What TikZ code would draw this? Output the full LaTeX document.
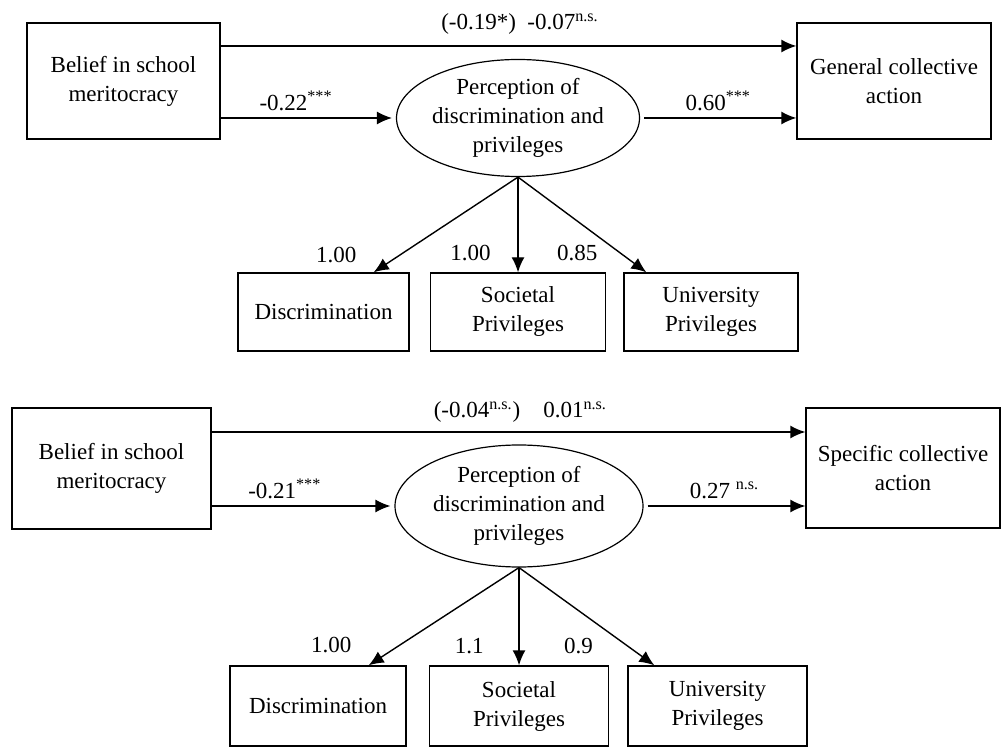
\documentclass[tikz,border=0pt]{standalone}
\usepackage{fontspec}
\setmainfont{Liberation Serif}
\usetikzlibrary{arrows.meta,shapes,positioning}

\begin{document}
\begin{tikzpicture}[x=0.5pt, y=-0.5pt,
        font=\fontsize{11.5}{14.5}\selectfont,
        box/.style={draw, line width=0.7pt, inner sep=0pt, align=center},
        latent/.style={draw, ellipse, line width=0.6pt, inner sep=0pt, align=center},
        arr/.style={->, >={Latex[length=7.5pt,width=6.5pt]}, line width=0.7pt}]
        \useasboundingbox (0,0) rectangle (1001,753);

        % general collective action
        \node[box, minimum width=96.5pt, minimum height=58pt] (M1) at (123.5,81) {Belief in school\\meritocracy};
        \node[box, minimum width=97pt, minimum height=58pt] (G1) at (894,81) {General collective\\action};
        \node[latent, minimum width=120pt, minimum height=58.5pt] (P1) at (518,118) {Perception of\\discrimination and\\privileges};

        \node[box, minimum width=85.5pt, minimum height=39pt] (D1) at (323.5,312) {Discrimination};
        \node[box, minimum width=87.5pt, minimum height=39pt] (S1) at (518,312) {Societal\\Privileges};
        \node[box, minimum width=87pt, minimum height=39pt] (U1) at (711,312) {University\\Privileges};

        \coordinate (T1) at (0,46);

        \draw[arr] (M1.east |- T1) to node[above, pos=0.52, yshift=2pt]{(-0.19*)\ \ -0.07\textsuperscript{n.s.}} (G1.west |- T1);
        \draw[arr, shorten >=2pt] (M1.east |- P1) to node[above, pos=0.43]{-0.22\textsuperscript{***}} (P1);
        \draw[arr, shorten <=2pt] (P1) to node[above]{0.60\textsuperscript{***}} (P1 -| G1.west);

        \draw[arr] (P1.south) to node[pos=1, above left, xshift=-5pt, yshift=1pt]{1.00} ([xshift=-18pt]D1.north east);
        \draw[arr] (P1.south) to node[pos=0.8, left=10pt]{1.00} (S1.north);
        \draw[arr] (P1.south) to node[pos=0.8, left=8pt]{0.85} ([xshift=11.5pt]U1.north west);

        % specific collective action
        \node[box, minimum width=99.5pt, minimum height=60.5pt] (M2) at (111.5,468.5) {Belief in school\\meritocracy};
        \node[box, minimum width=97pt, minimum height=60pt] (C2) at (903,468) {Specific collective\\action};
        \node[latent, minimum width=124pt, minimum height=61pt] (P2) at (519,506) {Perception of\\discrimination and\\privileges};

        \node[box, minimum width=88pt, minimum height=40pt] (D2) at (318,706) {Discrimination};
        \node[box, minimum width=89.5pt, minimum height=40pt] (S2) at (519,706) {Societal\\Privileges};
        \node[box, minimum width=89.5pt, minimum height=40pt] (U2) at (717.5,706) {University\\Privileges};

        \coordinate (T2) at (0,432);

        \draw[arr] (M2.east |- T2) to node[above, pos=0.52, yshift=1pt]{(-0.04\textsuperscript{n.s.})\quad 0.01\textsuperscript{n.s.}} (C2.west |- T2);
        \draw[arr, shorten >=2pt] (M2.east |- P2) to node[above, pos=0.4]{-0.21\textsuperscript{***}} (P2);
        \draw[arr, shorten <=2pt] (P2) to node[above]{0.27 \textsuperscript{n.s.}} (P2 -| C2.west);

        \draw[arr] (P2.south) to node[pos=1, above left, xshift=-5pt, yshift=2.5pt]{1.00} ([xshift=-19pt]D2.north east);
        \draw[arr] (P2.south) to node[pos=0.8, left=14pt]{1.1} (S2.north);
        \draw[arr] (P2.south) to node[pos=0.8, left=13.5pt]{0.9} ([xshift=13.5pt]U2.north west);
    \end{tikzpicture}
\end{document}
